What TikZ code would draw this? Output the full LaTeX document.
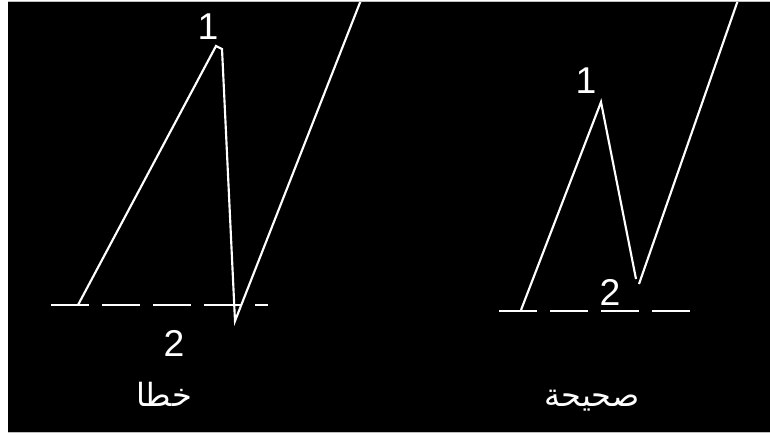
\documentclass[tikz,border=0pt]{standalone}
\usepackage{fontspec}
\setmainfont{Liberation Sans}
\newfontfamily\arabicfont[Script=Arabic]{DejaVu Sans}
\TeXXeTstate=1
\begin{document}
\begin{tikzpicture}[x=0.75pt,y=-0.75pt,
  wave/.style={white,line width=1.6pt,line join=miter},
  baseline dashed/.style={white,line width=1.5pt,dash pattern=on 28.5pt off 9.75pt},
  num/.style={white,font=\fontsize{28}{32}\selectfont,inner sep=0pt,anchor=base},
  word/.style={white,font=\arabicfont\fontsize{24}{28}\selectfont,inner sep=0pt,anchor=base}]
\useasboundingbox (0,0) rectangle (770,437);
\fill[white] (0,0) rectangle (770,437);
\fill[black] (8,2) rectangle (770,432.5);
\draw[gray!50,line width=0.75pt] (8,1.8) -- (770,1.8);
\draw[gray!50,line width=0.75pt] (8,432.8) -- (770,432.8);
\begin{scope}
\clip (8,2) rectangle (770,432);
% left (wrong)
\coordinate (la) at (51,305);
\coordinate (lb) at (268,305);
\draw[baseline dashed] (la) -- (lb);
\coordinate (l0) at (78,305);
\coordinate (l1) at (216,46);
\coordinate (l2) at (222,49);
\coordinate (l3) at (235,321);
\coordinate (l4) at (361,0);
\draw[wave] (l0) -- (l1) -- (l2) -- (l3) -- (l4);
% right (correct)
\coordinate (ra) at (499,310.5);
\coordinate (rb) at (691,310.5);
\draw[baseline dashed] (ra) -- (rb);
\coordinate (r0) at (521,310);
\coordinate (r1) at (601,102);
\coordinate (r2) at (636,279);
\coordinate (r3) at (639,284);
\coordinate (r4) at (738,0);
\draw[wave] (r0) -- (r1) -- (r2);
\draw[wave] (r3) -- (r4);
\end{scope}
\node[num] (lone) at (208,39) {1};
\node[num] (ltwo) at (174,356) {2};
\node[num] (rone) at (586,93) {1};
\node[num] (rtwo) at (610,305) {2};
\node[word] (wrong) at (164,406) {\beginR خطا\endR};
\node[word] (right) at (592,406) {\beginR صحيحة\endR};
\end{tikzpicture}
\end{document}
